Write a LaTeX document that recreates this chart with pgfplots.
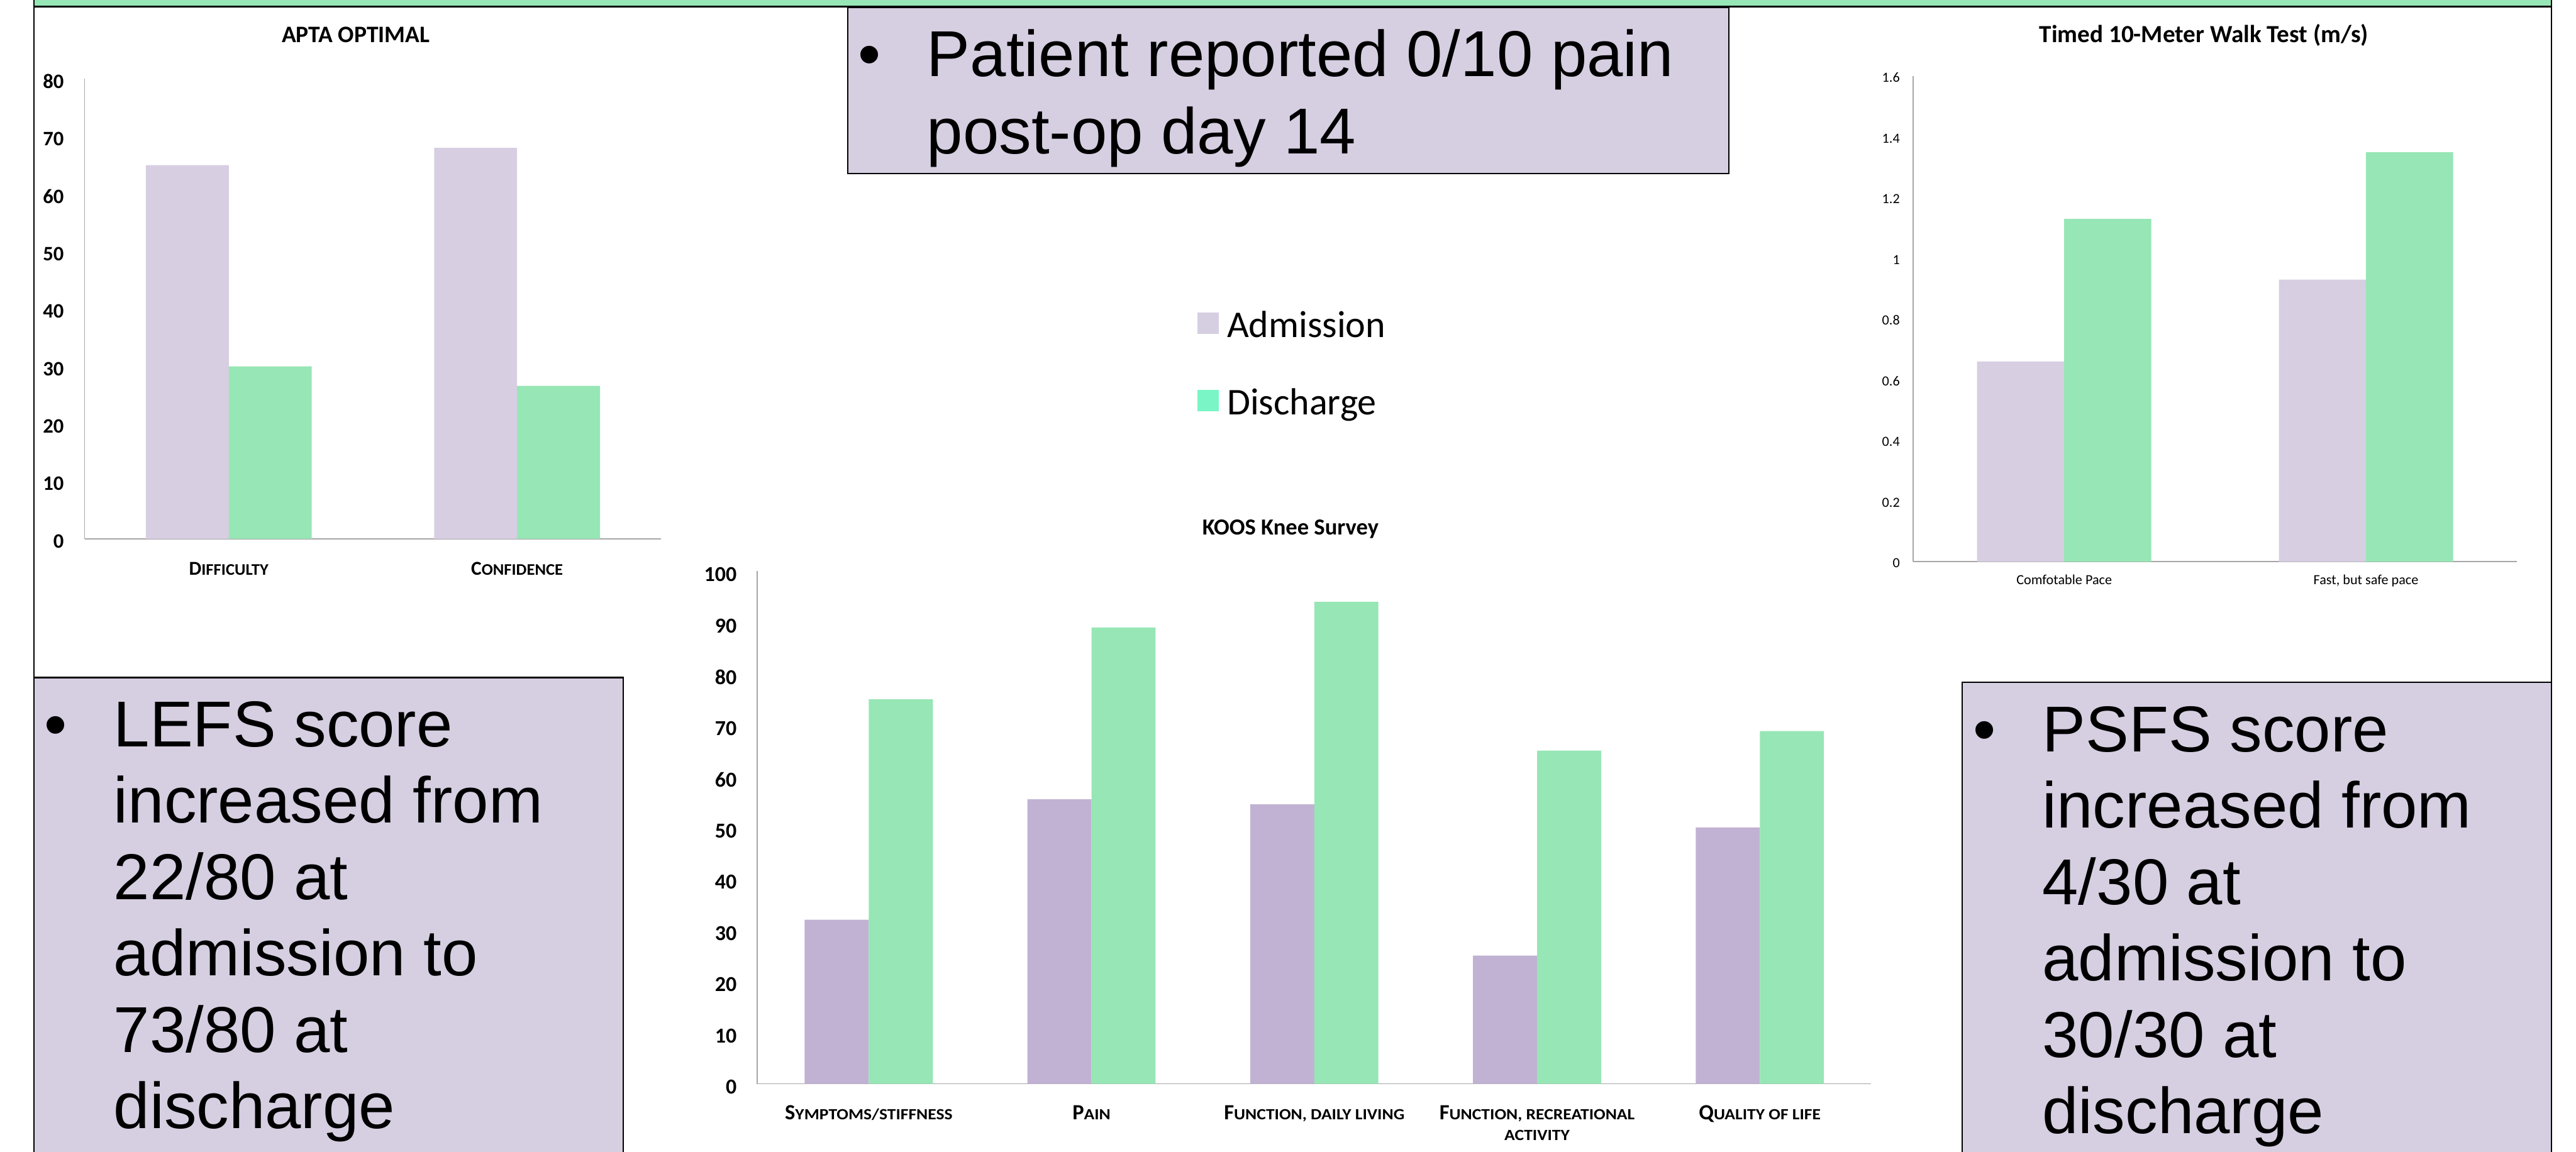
\documentclass[border=0pt]{standalone}
\usepackage{fontspec}
\setmainfont{Carlito}
\newfontfamily\arial{Liberation Sans}
\usepackage{graphicx}
\usepackage{pgfplots}
\pgfplotsset{compat=1.18}

\definecolor{admL}{HTML}{D7CEE2}
\definecolor{admD}{HTML}{C1B2D3}
\definecolor{dis}{HTML}{97E6B5}
\definecolor{legAdm}{HTML}{D6CEE1}
\definecolor{legDis}{HTML}{7AF5C6}
\definecolor{boxfill}{HTML}{D6CEE1}
\definecolor{band}{HTML}{97E6B5}
\definecolor{axisgray}{HTML}{A6A6A6}

\newcommand{\SC}[1]{\scalebox{0.85}[0.82]{#1}}
\newcommand{\SCK}[1]{\scalebox{0.8}[0.72]{#1}}
\newcommand{\bigtext}{\arial\fontsize{39.5}{46.5}\selectfont}

\pgfplotsset{
 posterbar/.style={
  scale only axis,
  axis x line*=bottom, axis y line*=left,
  axis line style={draw=axisgray, line width=0.7pt, -},
  major tick length=0pt, tick style={draw=none},
  ymin=0, clip=false,
  /pgf/number format/assume math mode=true,
 }
}

\begin{document}
\begin{tikzpicture}
\path[use as bounding box] (0pt,0pt) rectangle (1568pt,701pt);
\clip (0pt,0pt) rectangle (1568pt,701pt);

% top band and frame
\fill[band] (20.6pt,697pt) rectangle (1553pt,702pt);
\draw[black, line width=0.9pt] (20.6pt,697pt) -- (1553pt,697pt);
\draw[black, line width=0.9pt] (20.6pt,-2pt) -- (20.6pt,703pt);
\draw[black, line width=0.9pt] (1553pt,-2pt) -- (1553pt,703pt);

% text boxes
\filldraw[fill=boxfill, draw=black, line width=0.8pt] (516pt,696.6pt) rectangle (1052.5pt,595.3pt);
\filldraw[fill=boxfill, draw=black, line width=0.8pt] (20.6pt,288.5pt) rectangle (379.3pt,-5pt);
\filldraw[fill=boxfill, draw=black, line width=0.8pt] (1194.4pt,285.5pt) rectangle (1553pt,-5pt);

\begin{scope}[every node/.style={anchor=base west, inner sep=0pt, font=\bigtext}]
\node at (522pt,654.3pt) {•};
\node at (564pt,654.3pt) {Patient reported 0/10 pain};
\node at (564pt,607.5pt) {post-op day 14};

\node at (26.6pt,246.4pt) {•};
\node at (69pt,246.4pt) {LEFS score};
\node at (69pt,199.9pt) {increased from};
\node at (69pt,153.4pt) {22/80 at};
\node at (69pt,106.9pt) {admission to};
\node at (69pt,60.4pt) {73/80 at};
\node at (69pt,13.9pt) {discharge};

\node at (1200.7pt,243.4pt) {•};
\node at (1243pt,243.4pt) {PSFS score};
\node at (1243pt,196.9pt) {increased from};
\node at (1243pt,150.4pt) {4/30 at};
\node at (1243pt,103.9pt) {admission to};
\node at (1243pt,57.4pt) {30/30 at};
\node at (1243pt,10.9pt) {discharge};
\end{scope}

% APTA OPTIMAL
\begin{axis}[posterbar,
 at={(51.5pt,373pt)}, anchor=south west, width=351pt, height=280pt,
 xmin=-0.5, xmax=1.5, ymax=80,
 xtick={0,1}, xticklabels={D\SC{IFFICULTY}, C\SC{ONFIDENCE}},
 ytick={0,10,20,30,40,50,60,70,80},
 yticklabel style={font=\fontsize{12.5}{14}\selectfont\bfseries, anchor=east, inner sep=0pt, xshift=-12.5pt, yshift=-1.5pt},
 xticklabel style={font=\fontsize{12}{14}\selectfont\bfseries, anchor=base, inner sep=0pt, yshift=-22pt},
 title={APTA OPTIMAL},
 title style={font=\fontsize{14.4}{16}\selectfont\bfseries, at={(0.5,1)}, anchor=base, inner sep=0pt, xshift=-10.4pt, yshift=16.3pt},
]
\addplot[ybar, bar width=50.5pt, bar shift=-25.25pt, fill=admL, draw=none] coordinates {(0,65) (1,68)};
\addplot[ybar, bar width=50.5pt, bar shift=25.25pt, fill=dis, draw=none] coordinates {(0,30) (1,26.6)};
\end{axis}

% Timed 10-Meter Walk Test
\begin{axis}[posterbar,
 at={(1164.6pt,359pt)}, anchor=south west, width=367.4pt, height=295.5pt,
 xmin=-0.5, xmax=1.5, ymax=1.6,
 xtick={0,1}, xticklabels={Comfotable Pace, {Fast, but safe pace}},
 ytick={0,0.2,0.4,0.6,0.8,1,1.2,1.4,1.6},
 yticklabels={0,0.2,0.4,0.6,0.8,1,1.2,1.4,1.6},
 yticklabel style={font=\fontsize{8.5}{10}\selectfont, anchor=east, inner sep=0pt, xshift=-8pt, yshift=-0.8pt},
 xticklabel style={font=\fontsize{8.5}{10}\selectfont, anchor=base, inner sep=0pt, yshift=-14pt},
 title={Timed 10-Meter Walk Test (m/s)},
 title style={font=\fontsize{15}{17}\selectfont\bfseries, at={(0.5,1)}, anchor=base, inner sep=0pt, xshift=-6.8pt, yshift=14.7pt},
]
\addplot[ybar, bar width=53pt, bar shift=-26.5pt, fill=admL, draw=none] coordinates {(0,0.66) (1,0.93)};
\addplot[ybar, bar width=53pt, bar shift=26.5pt, fill=dis, draw=none] coordinates {(0,1.13) (1,1.35)};
\end{axis}

% KOOS Knee Survey
\begin{axis}[posterbar,
 at={(461pt,41.2pt)}, anchor=south west, width=678pt, height=312.1pt,
 xmin=-0.5, xmax=4.5, ymax=100,
 xtick={0,1,2,3,4},
 xticklabels={S\SCK{YMPTOMS/STIFFNESS}, P\SCK{AIN}, {F\SCK{UNCTION, DAILY LIVING}}, {F\SCK{UNCTION, RECREATIONAL}\\\SCK{ACTIVITY}}, Q\SCK{UALITY OF LIFE}},
 ytick={0,10,20,30,40,50,60,70,80,90,100},
 yticklabel style={font=\fontsize{13}{15}\selectfont\bfseries, anchor=east, inner sep=0pt, xshift=-12.4pt, yshift=-2pt},
 xticklabel style={font=\fontsize{13.2}{12.6}\selectfont\bfseries, align=center, anchor=north, inner sep=0pt, yshift=-13.1pt},
 title={KOOS Knee Survey},
 title style={font=\fontsize{14}{16}\selectfont\bfseries, at={(0.5,1)}, anchor=base, inner sep=0pt, xshift=-14.5pt, yshift=16.3pt},
 legend style={at={(0.3948,1.5043)}, anchor=north west, draw=none, fill=none, inner sep=0pt, outer sep=0pt, row sep=0pt,
   cells={anchor=base west},
   nodes={inner sep=0pt, text height=15pt, text depth=32.1pt, font=\fontsize{23}{26}\selectfont},
   /tikz/every odd column/.append style={column sep=5pt}},
]
\addlegendimage{legend image code/.code={\fill[legAdm] (0pt,2.3pt) rectangle (12.8pt,14.9pt);}}
\addlegendentry{Admission}
\addlegendimage{legend image code/.code={\fill[legDis] (0pt,2.3pt) rectangle (12.8pt,14.9pt);}}
\addlegendentry{Discharge}
\addplot[ybar, bar width=39pt, bar shift=-19.5pt, fill=admD, draw=none, forget plot] coordinates {(0,32) (1,55.5) (2,54.5) (3,25) (4,50)};
\addplot[ybar, bar width=39pt, bar shift=19.5pt, fill=dis, draw=none, forget plot] coordinates {(0,75) (1,89) (2,94) (3,65) (4,68.8)};
\end{axis}
\end{tikzpicture}
\end{document}
